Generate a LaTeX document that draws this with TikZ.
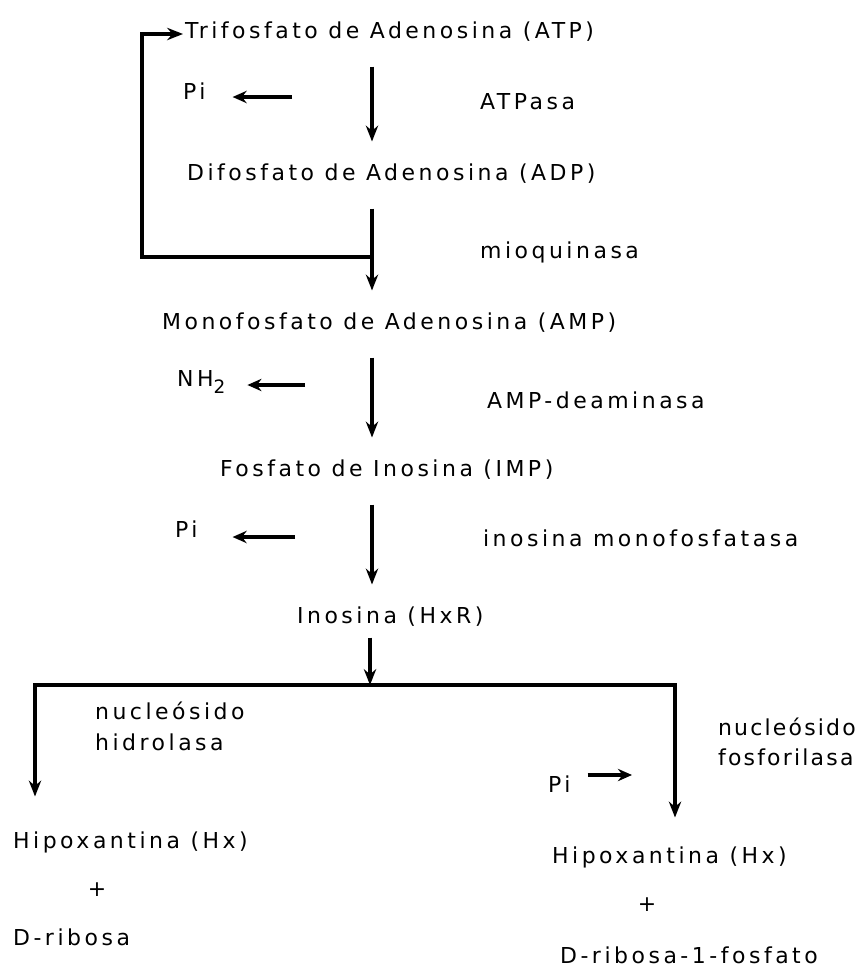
\documentclass[tikz,border=0pt]{standalone}
\usepackage{fontspec}
\setmainfont{DejaVu Sans}[LetterSpace=16]
\usepackage{tikz}
\usetikzlibrary{arrows.meta,calc,positioning}
\tikzset{
  met/.style={font=\fontsize{12.5}{15}\selectfont, anchor=west, inner sep=1pt,
    text height=0.75em, text depth=0.21em},
  enz/.style={met, align=left},
  flow/.style={-{Stealth[length=9pt,width=7pt]}, line width=2pt},
  side/.style={-{Stealth[length=8pt,width=7pt]}, line width=2pt},
}

\begin{document}
\begin{tikzpicture}[x=0.02cm,y=-0.02cm,>={Stealth}]
  \useasboundingbox (0,0) rectangle (865,970);
  % main chain
  \node[met] (atp) at (183,34) {Trifosfato de Adenosina (ATP)};
  \node[met] (adp) at (185,176) {Difosfato de Adenosina (ADP)};
  \node[met] (amp) at (160,325) {Monofosfato de Adenosina (AMP)};
  \node[met] (imp) at (218,472) {Fosfato de Inosina (IMP)};
  \node[met] (ino) at (295,619) {Inosina (HxR)};
  % side products and enzymes
  \node[met] (pi1) at (181,95) {Pi};
  \node[met] (nh2) at (175,382) {NH\raisebox{-0.55ex}{\fontsize{10.5}{12}\selectfont 2}};
  \node[met] (pi2) at (173,533) {Pi};
  \node[met] (atpasa) at (478,105) {ATPasa};
  \node[met] (mioq) at (478,254) {mioquinasa};
  \node[met] (ampd) at (485,404) {AMP-deaminasa};
  \node[met] (imono) at (481,542) {inosina monofosfatasa};
  % the two branches
  \node[enz, font=\fontsize{12.5}{17.6}\selectfont] (nhid) at (93,746) {nucleósido\\hidrolasa};
  \node[enz, font=\fontsize{12.5}{17}\selectfont\addfontfeatures{LetterSpace=10}] (nfos) at (716,761) {nucleósido\\fosforilasa};
  \node[met] (pi3) at (546,788) {Pi};
  \node[met] (hxl) at (11,844) {Hipoxantina (Hx)};
  \node[met, anchor=center] (plusl) at (97,892) {+};
  \node[met] (ribl) at (11,941) {D-ribosa};
  \node[met] (hxr) at (550,859) {Hipoxantina (Hx)};
  \node[met, anchor=center] (plusr) at (647,907) {+};
  \node[met] (ribr) at (558,959) {D-ribosa-1-fosfato};

  \coordinate (ax) at (372,0);
  \coordinate (jn) at (372,257);
  \coordinate (lc) at (142,257);
  \coordinate (split) at (370,685);
  \coordinate (lb) at (35,0);
  \coordinate (rb) at (675,0);
  \coordinate (pi1o) at (292,97);
  \coordinate (nh2o) at (305,385);
  \coordinate (pi2o) at (295,537);
  \coordinate (pi3i) at (632,775);

  \foreach \a/\b in {atp/adp,adp/amp,amp/imp,imp/ino}
    \draw[flow, shorten <=0.44cm, shorten >=0.48cm] (\a.south -| ax) -- (\b.north -| ax);
  % ATP regenerated by mioquinasa
  \draw[flow] (jn) -- (lc) |- (atp.west);
  \draw[side, shorten >=0.5cm] (pi1o) -- (pi1o -| pi1.east);
  \draw[side, shorten >=0.4cm] (nh2o) -- (nh2o -| nh2.east);
  \draw[side, shorten >=0.66cm] (pi2o) -- (pi2o -| pi2.east);
  \draw[side, shorten <=0.3cm] (pi3i -| pi3.east) -- (pi3i);
  \draw[flow, shorten <=0.16cm] (ino.south -| split) -- (split);
  \draw[flow, shorten >=0.74cm] (split) -| (hxl.north -| lb);
  \draw[flow, shorten >=0.62cm] (split) -| (hxr.north -| rb);
\end{tikzpicture}
\end{document}
